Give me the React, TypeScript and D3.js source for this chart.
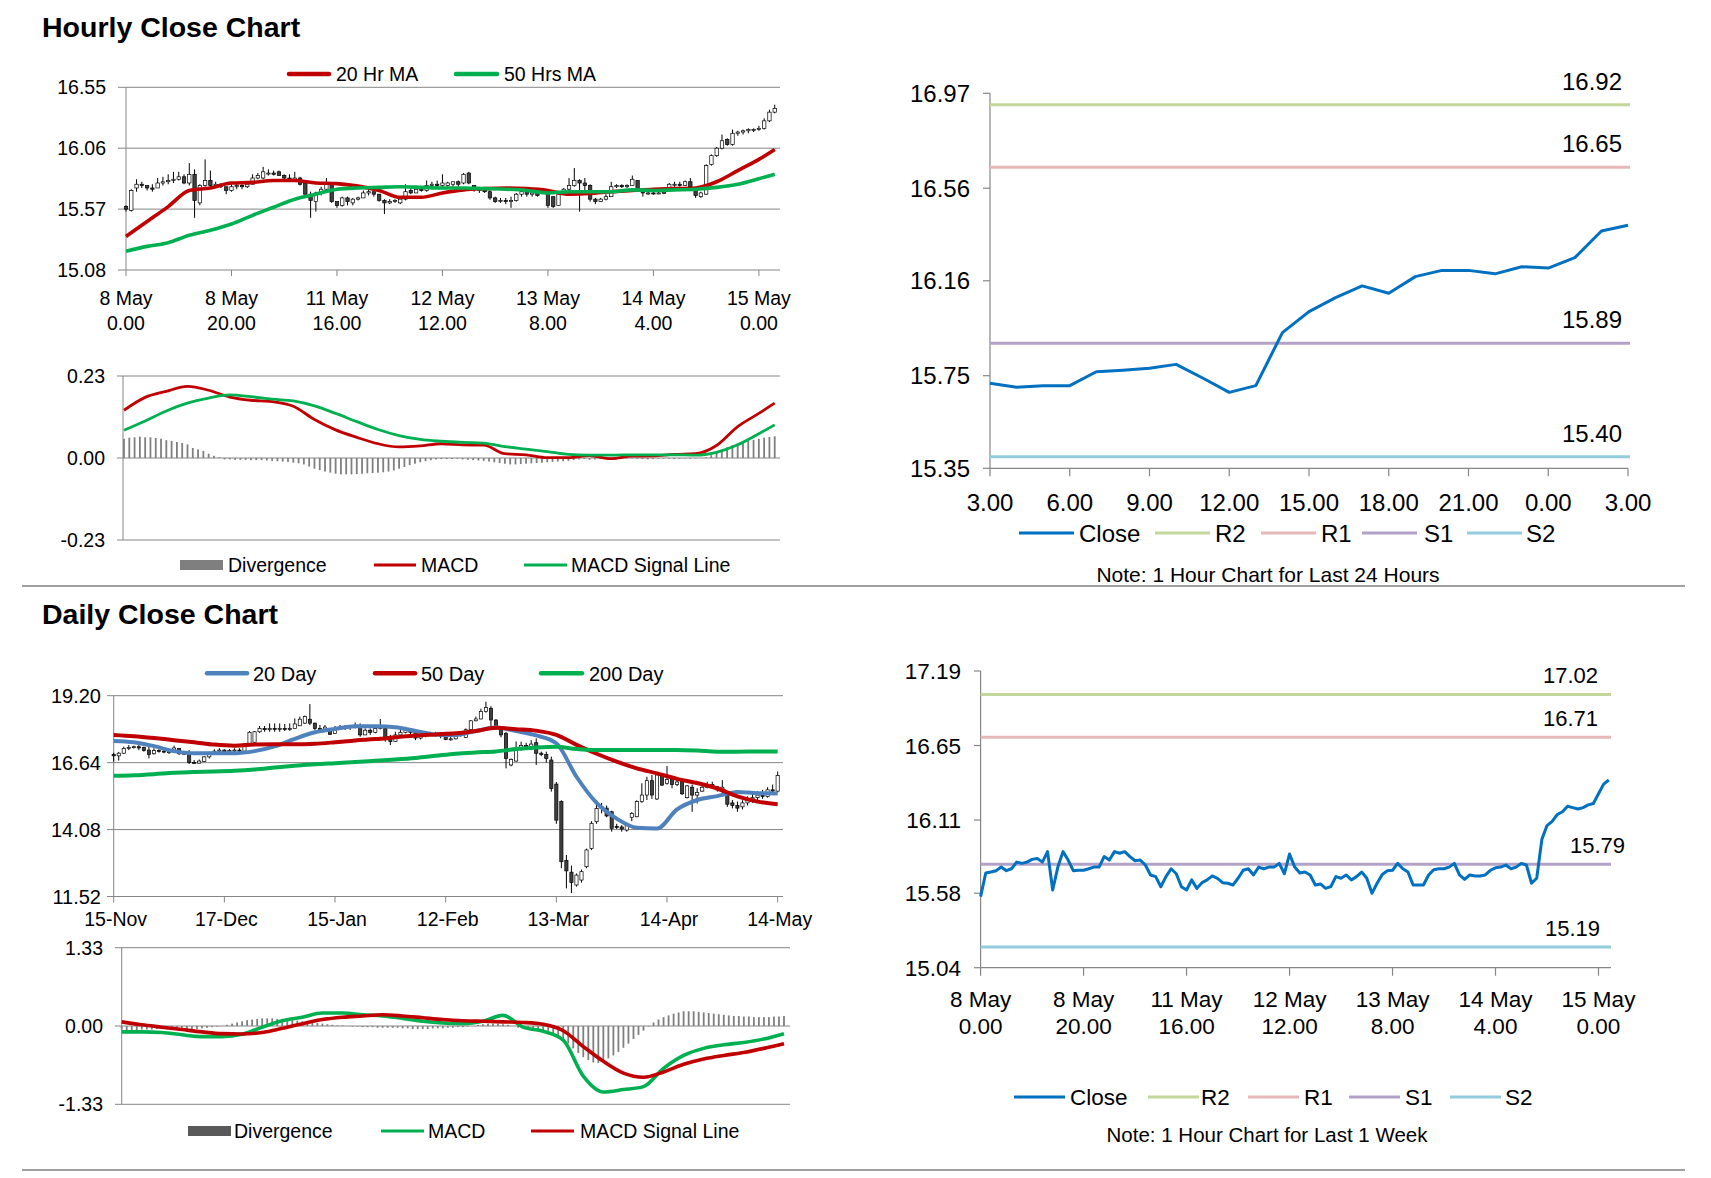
import React, { useEffect, useRef } from "react";
import * as d3 from "d3";

const W = 1711;
const H = 1178;
const FONT = "'Liberation Sans', Arial, Helvetica, sans-serif";
const GRID = "#868686";
const RED = "#c00000";
const GREEN = "#00b050";
const BLUE20 = "#4f81bd";
const CLOSE = "#0070c0";
const BAR = "#7f7f7f";

// ---------- Hourly close chart (top left) ----------
const hourTickLabels = [
  ["8 May", "0.00"],
  ["8 May", "20.00"],
  ["11 May", "16.00"],
  ["12 May", "12.00"],
  ["13 May", "8.00"],
  ["14 May", "4.00"],
  ["15 May", "0.00"],
];
const hourlyPriceTicks = [15.08, 15.57, 16.06, 16.55];
const hourlyMacdTicks = [-0.23, 0, 0.23];

// [open, high, low, close]
const hourlyCandles = [
  [15.59, 15.6, 15.55, 15.57], [15.56, 15.73, 15.55, 15.72], [15.74, 15.81, 15.71, 15.77], [15.77, 15.79, 15.74, 15.76],
  [15.76, 15.76, 15.72, 15.74], [15.74, 15.77, 15.71, 15.73], [15.74, 15.82, 15.74, 15.78], [15.78, 15.83, 15.76, 15.79],
  [15.79, 15.85, 15.77, 15.8], [15.8, 15.87, 15.78, 15.81], [15.81, 15.87, 15.8, 15.83], [15.83, 15.85, 15.77, 15.78],
  [15.78, 15.94, 15.76, 15.85], [15.85, 15.89, 15.5, 15.64], [15.62, 15.77, 15.6, 15.76], [15.76, 15.97, 15.75, 15.8],
  [15.8, 15.88, 15.75, 15.76], [15.76, 15.79, 15.75, 15.77], [15.77, 15.78, 15.74, 15.75], [15.75, 15.75, 15.69, 15.72],
  [15.72, 15.77, 15.71, 15.75], [15.75, 15.78, 15.73, 15.76], [15.76, 15.78, 15.73, 15.75], [15.75, 15.79, 15.74, 15.77],
  [15.77, 15.85, 15.77, 15.82], [15.82, 15.86, 15.81, 15.84], [15.82, 15.91, 15.81, 15.87], [15.86, 15.89, 15.84, 15.86],
  [15.86, 15.88, 15.84, 15.85], [15.87, 15.88, 15.84, 15.84], [15.84, 15.85, 15.81, 15.82], [15.82, 15.85, 15.8, 15.81],
  [15.81, 15.87, 15.8, 15.82], [15.82, 15.83, 15.76, 15.77], [15.78, 15.79, 15.67, 15.69], [15.69, 15.71, 15.5, 15.64],
  [15.63, 15.71, 15.55, 15.7], [15.7, 15.75, 15.68, 15.73], [15.73, 15.82, 15.72, 15.77], [15.77, 15.78, 15.62, 15.63],
  [15.63, 15.63, 15.58, 15.6], [15.6, 15.67, 15.59, 15.66], [15.66, 15.67, 15.6, 15.63], [15.62, 15.66, 15.6, 15.65],
  [15.65, 15.67, 15.64, 15.66], [15.66, 15.72, 15.66, 15.7], [15.7, 15.73, 15.68, 15.71], [15.71, 15.71, 15.67, 15.69],
  [15.69, 15.69, 15.63, 15.64], [15.64, 15.65, 15.53, 15.62], [15.62, 15.65, 15.61, 15.63], [15.63, 15.65, 15.62, 15.64],
  [15.62, 15.66, 15.61, 15.65], [15.65, 15.77, 15.64, 15.71], [15.72, 15.75, 15.69, 15.7], [15.7, 15.76, 15.7, 15.73],
  [15.73, 15.75, 15.71, 15.72], [15.72, 15.8, 15.71, 15.76], [15.76, 15.79, 15.74, 15.77], [15.77, 15.8, 15.74, 15.76],
  [15.76, 15.85, 15.75, 15.78], [15.76, 15.79, 15.75, 15.78], [15.77, 15.79, 15.75, 15.79], [15.79, 15.8, 15.75, 15.77],
  [15.78, 15.86, 15.77, 15.85], [15.86, 15.87, 15.77, 15.78], [15.76, 15.76, 15.71, 15.74], [15.74, 15.74, 15.7, 15.72],
  [15.72, 15.74, 15.7, 15.71], [15.71, 15.72, 15.645, 15.66], [15.66, 15.67, 15.62, 15.63], [15.63, 15.66, 15.62, 15.64],
  [15.64, 15.66, 15.61, 15.63], [15.63, 15.67, 15.58, 15.64], [15.64, 15.7, 15.63, 15.69], [15.69, 15.73, 15.67, 15.71],
  [15.71, 15.71, 15.67, 15.69], [15.69, 15.71, 15.67, 15.7], [15.7, 15.71, 15.67, 15.68], [15.7, 15.74, 15.7, 15.72],
  [15.71, 15.71, 15.58, 15.6], [15.67, 15.67, 15.58, 15.59], [15.6, 15.71, 15.6, 15.69], [15.7, 15.74, 15.69, 15.73],
  [15.73, 15.82, 15.71, 15.76], [15.76, 15.9, 15.75, 15.8], [15.8, 15.81, 15.55, 15.78], [15.78, 15.82, 15.71, 15.76],
  [15.76, 15.77, 15.63, 15.65], [15.65, 15.66, 15.61, 15.63], [15.63, 15.66, 15.63, 15.65], [15.65, 15.69, 15.64, 15.67],
  [15.67, 15.79, 15.67, 15.75], [15.75, 15.77, 15.74, 15.76], [15.76, 15.77, 15.74, 15.75], [15.75, 15.77, 15.74, 15.76],
  [15.76, 15.84, 15.76, 15.81], [15.8, 15.8, 15.72, 15.73], [15.72, 15.73, 15.67, 15.7], [15.7, 15.71, 15.685, 15.7],
  [15.7, 15.71, 15.685, 15.695], [15.695, 15.71, 15.69, 15.7], [15.7, 15.71, 15.69, 15.705], [15.74, 15.78, 15.74, 15.77],
  [15.77, 15.79, 15.75, 15.77], [15.77, 15.79, 15.75, 15.76], [15.76, 15.8, 15.76, 15.79], [15.79, 15.82, 15.74, 15.75],
  [15.72, 15.72, 15.66, 15.68], [15.67, 15.71, 15.66, 15.7], [15.69, 15.93, 15.685, 15.92], [15.93, 16.01, 15.92, 16.0],
  [16.0, 16.07, 15.99, 16.06], [16.06, 16.17, 16.05, 16.12], [16.13, 16.14, 16.08, 16.09], [16.09, 16.21, 16.08, 16.18],
  [16.18, 16.2, 16.16, 16.19], [16.19, 16.21, 16.17, 16.2], [16.2, 16.22, 16.18, 16.21], [16.21, 16.22, 16.19, 16.21],
  [16.21, 16.24, 16.2, 16.22], [16.22, 16.3, 16.21, 16.28], [16.28, 16.37, 16.27, 16.35], [16.35, 16.41, 16.34, 16.38],
];

// moving averages / MACD read every 4th hour (last at hour 123)
const hourlySampleIdx = [0, 4, 8, 12, 16, 20, 24, 28, 32, 36, 40, 44, 48, 52, 56, 60, 64, 68, 72, 76, 80, 84, 88, 92, 96, 100, 104, 108, 112, 116, 120, 123];
const hourlyMa20 = [15.35, 15.47, 15.59, 15.72, 15.74, 15.78, 15.785, 15.8, 15.8, 15.78, 15.775, 15.755, 15.72, 15.665, 15.665, 15.7, 15.725, 15.735, 15.74, 15.735, 15.72, 15.69, 15.695, 15.71, 15.72, 15.73, 15.735, 15.74, 15.79, 15.88, 15.97, 16.05];
const hourlyMa50 = [15.23, 15.27, 15.3, 15.36, 15.4, 15.45, 15.52, 15.585, 15.65, 15.69, 15.73, 15.74, 15.745, 15.75, 15.745, 15.74, 15.74, 15.735, 15.73, 15.72, 15.7, 15.71, 15.71, 15.71, 15.725, 15.72, 15.725, 15.73, 15.745, 15.77, 15.815, 15.85];
const hourlyMacd = [0.134, 0.17, 0.187, 0.201, 0.19, 0.171, 0.162, 0.158, 0.145, 0.108, 0.079, 0.058, 0.04, 0.031, 0.034, 0.04, 0.037, 0.036, 0.012, 0.009, 0.001, 0.001, 0.007, -0.002, 0.005, 0.006, 0.01, 0.012, 0.035, 0.088, 0.125, 0.154];
const hourlySignal = [0.078, 0.104, 0.132, 0.154, 0.168, 0.177, 0.172, 0.165, 0.16, 0.146, 0.125, 0.102, 0.08, 0.063, 0.052, 0.047, 0.044, 0.042, 0.032, 0.025, 0.018, 0.01, 0.008, 0.008, 0.009, 0.009, 0.009, 0.008, 0.016, 0.037, 0.068, 0.093];
const hourlyDivergence = [
  0.054, 0.057, 0.058, 0.06, 0.058, 0.058, 0.056, 0.054, 0.05, 0.048, 0.045, 0.042, 0.038, 0.028, 0.024, 0.02, 0.012, 0.006, 0.002,
  -0.004, -0.004, -0.005, -0.005, -0.005, -0.006, -0.006, -0.006, -0.007, -0.008, -0.009, -0.01, -0.011, -0.013, -0.015,
  -0.018, -0.024, -0.03, -0.034, -0.038, -0.041, -0.044, -0.046, -0.046, -0.046, -0.045, -0.044, -0.043, -0.042, -0.041,
  -0.04, -0.038, -0.035, -0.03, -0.025, -0.02, -0.016, -0.012, -0.009, -0.006, -0.004, -0.003, -0.003, -0.003,
  -0.002, -0.004, -0.005, -0.006, -0.007, -0.008, -0.01, -0.012, -0.014, -0.016, -0.018, -0.018, -0.017, -0.016, -0.015,
  -0.014, -0.013, -0.012, -0.011, -0.01, -0.009, -0.008, -0.006,
  -0.004, -0.003, -0.005, -0.004, -0.003, -0.002, -0.004, -0.005, -0.003, -0.002, -0.001, -0.002, -0.003, -0.004, -0.003,
  -0.002, -0.001, -0.002, -0.003, -0.002, -0.001, -0.002, -0.001, 0,
  0.002, 0.008, 0.015, 0.022, 0.03, 0.036, 0.04, 0.044, 0.048, 0.051, 0.054, 0.057, 0.059, 0.061,
];

// ---------- 1 hour chart for last 24 hours (top right) ----------
const dayHourLabels = ["3.00", "6.00", "9.00", "12.00", "15.00", "18.00", "21.00", "0.00", "3.00"];
const dayTicks = [15.35, 15.75, 16.16, 16.56, 16.97];
const dayClose = [15.717, 15.7, 15.707, 15.707, 15.767, 15.774, 15.782, 15.799, 15.74, 15.678, 15.707, 15.936, 16.027, 16.087, 16.138, 16.106, 16.178, 16.205, 16.205, 16.19, 16.221, 16.215, 16.26, 16.375, 16.4];
const levelNames = ["R2", "R1", "S1", "S2"];
const levelColors = ["#c3d69b", "#e6b9b8", "#b3a2c7", "#93cddd"];
const dayLevels = [16.92, 16.65, 15.89, 15.4];

// ---------- Daily close chart (bottom left) ----------
const dailyTickLabels = ["15-Nov", "17-Dec", "15-Jan", "12-Feb", "13-Mar", "14-Apr", "14-May"];
const dailyPriceTicks = [11.52, 14.08, 16.64, 19.2];
const dailyMacdTicks = [-1.33, 0, 1.33];
const dailyCandles = [
  [16.95, 17.02, 16.68, 16.9], [16.9, 17.05, 16.72, 17.0], [17.0, 17.25, 16.98, 17.18], [17.18, 17.31, 17.12, 17.22],
  [17.22, 17.29, 17.18, 17.25], [17.25, 17.31, 17.12, 17.2], [17.22, 17.25, 17.06, 17.1], [17.12, 17.25, 16.8, 16.95],
  [16.98, 17.19, 16.95, 17.1], [17.1, 17.15, 17.02, 17.08], [17.08, 17.12, 17.0, 17.05], [17.05, 17.12, 16.97, 17.06],
  [17.06, 17.29, 17.05, 17.2], [17.18, 17.19, 16.93, 16.98], [16.98, 17.06, 16.93, 17.0], [17.0, 17.12, 16.59, 16.65],
  [16.65, 16.74, 16.59, 16.62], [16.62, 16.76, 16.61, 16.7], [16.68, 16.89, 16.66, 16.86], [16.86, 17.06, 16.8, 17.0],
  [17.0, 17.15, 16.97, 17.08], [17.08, 17.19, 17.0, 17.12], [17.12, 17.15, 16.97, 17.05], [17.05, 17.16, 17.0, 17.1],
  [17.1, 17.19, 17.02, 17.12], [17.12, 17.19, 17.02, 17.08], [17.08, 17.38, 17.06, 17.35], [17.38, 17.85, 17.35, 17.8],
  [17.42, 17.85, 17.4, 17.82], [17.82, 18.04, 17.78, 17.95], [17.95, 18.04, 17.82, 17.9], [17.9, 18.14, 17.82, 17.95],
  [17.95, 18.14, 17.82, 17.92], [17.92, 18.14, 17.82, 17.95], [17.95, 18.12, 17.85, 17.92], [17.92, 18.14, 17.86, 17.95],
  [17.95, 18.33, 17.95, 18.12], [18.05, 18.4, 18.04, 18.3], [18.15, 18.44, 18.12, 18.4], [18.3, 18.88, 18.08, 18.15],
  [18.15, 18.17, 17.89, 17.95], [17.95, 18.08, 17.86, 17.92], [17.92, 18.08, 17.89, 18.0], [17.95, 17.96, 17.7, 17.72],
  [17.75, 18.04, 17.74, 17.92], [17.92, 18.08, 17.89, 18.0], [18.0, 18.08, 17.89, 17.98], [17.98, 18.08, 17.89, 18.02],
  [18.02, 18.17, 17.95, 18.05], [18.05, 18.14, 17.63, 17.7], [17.7, 17.95, 17.7, 17.88], [17.88, 17.95, 17.7, 17.8],
  [17.8, 18.08, 17.76, 17.95], [17.95, 18.31, 17.91, 18.0], [17.95, 17.96, 17.44, 17.55], [17.55, 17.7, 17.31, 17.45],
  [17.45, 17.82, 17.45, 17.7], [17.7, 17.95, 17.63, 17.8], [17.8, 18.01, 17.76, 17.9], [17.9, 17.95, 17.7, 17.8],
  [17.8, 17.82, 17.5, 17.58], [17.58, 17.78, 17.53, 17.65], [17.65, 17.82, 17.61, 17.7], [17.7, 17.82, 17.66, 17.75],
  [17.75, 17.82, 17.63, 17.7], [17.7, 17.78, 17.57, 17.65], [17.68, 17.7, 17.5, 17.52], [17.52, 17.66, 17.48, 17.55],
  [17.55, 17.78, 17.53, 17.7], [17.7, 17.78, 17.63, 17.72], [17.6, 17.95, 17.58, 17.9], [17.9, 18.27, 17.88, 18.24],
  [18.24, 18.4, 18.22, 18.31], [18.31, 18.7, 18.3, 18.6], [18.6, 18.97, 18.55, 18.75], [18.72, 18.8, 18.04, 18.27],
  [18.27, 18.3, 17.9, 17.95], [17.95, 17.98, 17.61, 17.7], [17.75, 17.82, 16.42, 16.8], [16.55, 16.8, 16.5, 16.76],
  [16.7, 17.45, 16.68, 17.2], [17.2, 17.44, 17.1, 17.3], [17.3, 17.4, 17.2, 17.25], [17.25, 17.5, 17.12, 17.35],
  [17.4, 17.57, 16.55, 17.0], [17.0, 17.06, 16.89, 16.95], [16.95, 17.06, 16.64, 16.8], [16.74, 16.87, 15.53, 15.65],
  [15.82, 15.9, 14.3, 14.44], [15.15, 15.2, 12.6, 12.85], [12.9, 13.11, 11.83, 12.5], [12.45, 12.7, 11.65, 12.05],
  [11.96, 12.4, 11.9, 12.34], [12.15, 12.55, 12.05, 12.47], [12.66, 13.35, 12.6, 13.3], [13.36, 14.4, 13.3, 14.32],
  [14.38, 15.2, 14.3, 14.89], [14.89, 15.1, 14.7, 14.95], [14.9, 15.0, 14.55, 14.6], [14.76, 14.8, 14.0, 14.13],
  [14.2, 14.3, 14.1, 14.18], [14.18, 14.25, 14.0, 14.1], [14.06, 14.3, 14.0, 14.25], [14.55, 14.75, 14.4, 14.7],
  [14.57, 15.2, 14.55, 15.15], [15.15, 15.85, 15.1, 15.4], [15.4, 16.1, 15.21, 15.95], [15.95, 16.17, 15.25, 15.4],
  [15.25, 16.23, 15.21, 16.17], [16.17, 16.2, 15.75, 15.78], [15.85, 16.51, 15.8, 16.0], [16.0, 16.04, 15.66, 15.8],
  [15.8, 16.04, 15.74, 15.9], [15.95, 15.97, 15.4, 15.45], [15.3, 15.78, 15.27, 15.75], [15.7, 15.8, 14.76, 15.4],
  [15.4, 15.66, 15.08, 15.5], [15.55, 15.85, 15.52, 15.7], [15.7, 15.91, 15.66, 15.75], [15.75, 15.91, 15.72, 15.8],
  [15.72, 15.75, 15.53, 15.6], [15.6, 15.97, 15.46, 15.7], [15.5, 15.55, 14.95, 15.05], [15.1, 15.21, 14.89, 15.0],
  [15.0, 15.15, 14.76, 14.9], [14.95, 15.2, 14.85, 15.1], [15.1, 15.35, 15.0, 15.25], [15.25, 15.5, 15.1, 15.3],
  [15.3, 15.55, 15.15, 15.4], [15.4, 15.6, 15.25, 15.35], [15.35, 15.7, 15.3, 15.6], [15.6, 15.8, 15.45, 15.55],
  [15.55, 16.3, 15.5, 16.15],
];

// moving averages / MACD read every 4th day
const dailySampleIdx = [0, 4, 8, 12, 16, 20, 24, 28, 32, 36, 40, 44, 48, 52, 56, 60, 64, 68, 72, 76, 80, 84, 88, 92, 96, 100, 104, 108, 112, 116, 120, 124, 128, 132];
const daily20 = [17.47, 17.42, 17.27, 17.08, 17.0, 17.0, 17.0, 17.08, 17.26, 17.55, 17.8, 17.93, 18.03, 18.03, 17.99, 17.85, 17.72, 17.7, 17.85, 17.98, 17.85, 17.68, 17.38, 16.1, 15.1, 14.5, 14.15, 14.12, 14.85, 15.21, 15.36, 15.52, 15.47, 15.46];
const daily50 = [17.7, 17.65, 17.58, 17.5, 17.42, 17.33, 17.29, 17.33, 17.34, 17.34, 17.36, 17.42, 17.49, 17.54, 17.61, 17.68, 17.72, 17.76, 17.85, 17.97, 17.92, 17.86, 17.7, 17.32, 16.98, 16.68, 16.42, 16.23, 16.02, 15.86, 15.65, 15.35, 15.15, 15.05];
const daily200 = [16.14, 16.16, 16.2, 16.25, 16.28, 16.3, 16.33, 16.38, 16.45, 16.52, 16.58, 16.62, 16.66, 16.71, 16.76, 16.82, 16.9, 16.98, 17.03, 17.07, 17.16, 17.22, 17.25, 17.16, 17.12, 17.12, 17.12, 17.12, 17.12, 17.1, 17.06, 17.06, 17.07, 17.07];
const dailyMacd = [-0.1, -0.1, -0.11, -0.15, -0.18, -0.18, -0.14, -0.02, 0.09, 0.15, 0.22, 0.22, 0.19, 0.17, 0.13, 0.08, 0.05, 0.04, 0.08, 0.18, -0.02, -0.09, -0.24, -0.85, -1.12, -1.08, -1.03, -0.72, -0.5, -0.38, -0.32, -0.28, -0.22, -0.13];
const dailySignal = [0.07, 0.02, -0.02, -0.06, -0.1, -0.13, -0.135, -0.11, -0.04, 0.04, 0.11, 0.15, 0.17, 0.19, 0.17, 0.14, 0.11, 0.09, 0.08, 0.07, 0.06, 0.03, -0.08, -0.35, -0.6, -0.8, -0.87, -0.78, -0.65, -0.56, -0.5, -0.45, -0.38, -0.3];
const dailyDivergence = [
  -0.06, -0.07, -0.07, -0.07, -0.06, -0.06, -0.06, -0.05, -0.05, -0.05, -0.05, -0.05, -0.06, -0.06, -0.06, -0.05, -0.04, -0.03, -0.02, -0.01,
  0.0, 0.02, 0.04, 0.06, 0.08, 0.1, 0.11, 0.12, 0.13, 0.13, 0.13, 0.12, 0.12, 0.11, 0.1, 0.09, 0.08, 0.07, 0.06, 0.05, 0.04, 0.03, 0.02, 0.01,
  0.01, 0.0, -0.01, -0.01, -0.02, -0.02, -0.02, -0.03, -0.03, -0.03, -0.03, -0.03, -0.04, -0.04, -0.05, -0.05, -0.05, -0.05, -0.04, -0.04,
  -0.04, -0.03, -0.03, -0.02, -0.02, -0.01, 0.0, 0.02, 0.03, 0.04, 0.04, 0.04, 0.03, 0.02, 0.0,
  -0.03, -0.05, -0.06, -0.07, -0.08, -0.09, -0.1, -0.12,
  -0.16, -0.22, -0.3, -0.38, -0.46, -0.53, -0.58, -0.62, -0.63, -0.6, -0.55, -0.5, -0.44, -0.37, -0.3, -0.22, -0.15, -0.08, -0.01,
  0.06, 0.11, 0.15, 0.18, 0.21, 0.23, 0.25, 0.25, 0.25, 0.24, 0.23, 0.22, 0.21, 0.2, 0.19, 0.18, 0.17, 0.17, 0.16, 0.16, 0.15, 0.15, 0.15,
  0.15, 0.16, 0.16, 0.17,
];

// ---------- 1 hour chart for last 1 week (bottom right) ----------
const weekTicks = [15.04, 15.58, 16.11, 16.65, 17.19];
const weekLevels = [17.02, 16.71, 15.79, 15.19];
const weekClose = [
  15.555, 15.726, 15.733, 15.743, 15.769, 15.743, 15.757, 15.805, 15.796, 15.805, 15.825, 15.832, 15.805, 15.881, 15.603, 15.769,
  15.881, 15.82, 15.743, 15.746, 15.746, 15.757, 15.769, 15.769, 15.845, 15.82, 15.881, 15.869, 15.881, 15.845, 15.815, 15.82,
  15.784, 15.712, 15.7, 15.627, 15.7, 15.757, 15.721, 15.627, 15.603, 15.676, 15.615, 15.656, 15.676, 15.705, 15.688, 15.656,
  15.652, 15.639, 15.688, 15.746, 15.757, 15.712, 15.769, 15.757, 15.769, 15.769, 15.796, 15.721, 15.864, 15.769, 15.726, 15.733,
  15.712, 15.639, 15.647, 15.615, 15.627, 15.7, 15.688, 15.712, 15.676, 15.7, 15.733, 15.688, 15.579, 15.652, 15.716, 15.743,
  15.746, 15.796, 15.757, 15.733, 15.639, 15.639, 15.639, 15.712, 15.75, 15.757, 15.757, 15.769, 15.796, 15.712, 15.68, 15.712,
  15.705, 15.705, 15.712, 15.746, 15.764, 15.769, 15.784, 15.757, 15.769, 15.796, 15.784, 15.652, 15.688, 15.97, 16.07, 16.1,
  16.15, 16.17, 16.21, 16.2, 16.19, 16.2, 16.22, 16.23, 16.3, 16.37, 16.4,
];

const App: React.FC = () => {
  const svgRef = useRef<SVGSVGElement>(null);

  useEffect(() => {
    if (!svgRef.current) return;
    const svg = d3.select(svgRef.current);
    svg.selectAll("*").remove();
    svg.append("rect").attr("width", W).attr("height", H).attr("fill", "#fff");

    const label = (x: number, y: number, s: string, size: number, anchor = "start", weight = "normal") =>
      svg
        .append("text")
        .attr("x", x)
        .attr("y", y)
        .attr("font-family", FONT)
        .attr("font-size", size)
        .attr("font-weight", weight)
        .attr("text-anchor", anchor)
        .attr("fill", "#000")
        .text(s);

    const seg = (x1: number, y1: number, x2: number, y2: number, color: string, width: number, cap = "butt") =>
      svg
        .append("line")
        .attr("x1", x1)
        .attr("y1", y1)
        .attr("x2", x2)
        .attr("y2", y2)
        .attr("stroke", color)
        .attr("stroke-width", width)
        .attr("stroke-linecap", cap);

    const series = (idx: number[], vals: number[], x: any, y: any, color: string, width: number, curve: any = d3.curveMonotoneX) =>
      svg
        .append("path")
        .datum(vals)
        .attr("fill", "none")
        .attr("stroke", color)
        .attr("stroke-width", width)
        .attr("stroke-linejoin", "round")
        .attr(
          "d",
          d3
            .line<number>()
            .x((_, i) => x(idx[i]))
            .y((d) => y(d))
            .curve(curve)
        );

    const candles = (data: number[][], x: any, y: any, bodyW: number) => {
      const g = svg.append("g");
      data.forEach(([o, h, l, c], i) => {
        const cx = x(i);
        g.append("line")
          .attr("x1", cx)
          .attr("x2", cx)
          .attr("y1", y(Math.max(h, o, c)))
          .attr("y2", y(Math.min(l, o, c)))
          .attr("stroke", "#000")
          .attr("stroke-width", 1);
        const top = y(Math.max(o, c));
        const bot = y(Math.min(o, c));
        g.append("rect")
          .attr("x", cx - bodyW / 2)
          .attr("y", top)
          .attr("width", bodyW)
          .attr("height", Math.max(1, bot - top))
          .attr("fill", c >= o ? "#fff" : "#404040")
          .attr("stroke", "#000")
          .attr("stroke-width", 0.7);
      });
    };

    const histogram = (vals: number[], x: any, y: any, width: number) => {
      svg
        .append("g")
        .selectAll("rect")
        .data(vals)
        .join("rect")
        .attr("x", (_, i) => x(i) - width / 2)
        .attr("y", (d) => Math.min(y(0), y(d)))
        .attr("width", width)
        .attr("height", (d) => Math.abs(y(d) - y(0)))
        .attr("fill", BAR);
    };

    // titles and separators
    label(42, 37, "Hourly Close Chart", 28.5, "start", "bold");
    label(42, 624, "Daily Close Chart", 28.5, "start", "bold");
    seg(22, 586, 1685, 586, "#7f7f7f", 1.5);
    seg(22, 1170, 1685, 1170, "#7f7f7f", 1.5);

    // ===== Hourly candles =====
    const xH = d3.scaleLinear().domain([0, 124]).range([126, 780]);
    const yH = d3.scaleLinear().domain([15.08, 16.55]).range([270, 87.3]);
    hourlyPriceTicks.forEach((t) => {
      seg(118, yH(t), 780, yH(t), GRID, 1);
      label(106, yH(t) + 7, t.toFixed(2), 19.5, "end");
    });
    seg(126, yH(16.55), 126, yH(15.08), GRID, 1);
    hourTickLabels.forEach((lab, k) => {
      const xx = xH(k * 20);
      seg(xx, 270, xx, 276, GRID, 1);
      label(xx, 304.5, lab[0], 19.5, "middle");
      label(xx, 329.5, lab[1], 19.5, "middle");
    });
    candles(hourlyCandles, xH, yH, 3.4);
    series(hourlySampleIdx, hourlyMa20, xH, yH, RED, 3.6);
    series(hourlySampleIdx, hourlyMa50, xH, yH, GREEN, 3.6);
    seg(289, 74, 329, 74, RED, 4.5, "round");
    label(336, 81, "20 Hr MA", 19.5);
    seg(456, 74, 497, 74, GREEN, 4.5, "round");
    label(504, 81, "50 Hrs MA", 19.5);

    // ===== Hourly MACD =====
    const xM = d3.scaleLinear().domain([0, 124]).range([124, 780]);
    const yM = d3.scaleLinear().domain([-0.23, 0.23]).range([540, 376]);
    hourlyMacdTicks.forEach((t) => {
      seg(117, yM(t), 780, yM(t), GRID, 1);
      label(105, yM(t) + 7, t.toFixed(2), 19.5, "end");
    });
    seg(123, yM(0.23), 123, yM(-0.23), GRID, 1);
    histogram(hourlyDivergence, xM, yM, 1.8);
    series(hourlySampleIdx, hourlyMacd, xM, yM, RED, 2.8);
    series(hourlySampleIdx, hourlySignal, xM, yM, GREEN, 2.8);
    svg.append("rect").attr("x", 180).attr("y", 560).attr("width", 43).attr("height", 10).attr("fill", BAR);
    label(228, 572, "Divergence", 19.5);
    seg(374, 565, 416, 565, RED, 2.8);
    label(421, 572, "MACD", 19.5);
    seg(524, 565, 567, 565, GREEN, 2.8);
    label(571, 572, "MACD Signal Line", 19.5);

    // ===== Last 24 hours =====
    const xR = d3.scaleLinear().domain([0, 24]).range([990, 1628]);
    const yR = d3.scaleLinear().domain([15.35, 16.97]).range([468.3, 93.3]);
    seg(990, yR(16.97), 990, yR(15.35), GRID, 1.2);
    seg(990, yR(15.35), 1628, yR(15.35), GRID, 1.2);
    dayTicks.forEach((t) => {
      seg(983, yR(t), 990, yR(t), GRID, 1.2);
      label(970, yR(t) + 8.5, t.toFixed(2), 24, "end");
    });
    dayHourLabels.forEach((lab, k) => {
      const xx = xR(k * 3);
      seg(xx, yR(15.35), xx, yR(15.35) + 8, GRID, 1.2);
      label(xx, 511, lab, 24, "middle");
    });
    dayLevels.forEach((v, k) => {
      seg(990, yR(v), 1630, yR(v), levelColors[k], 3);
      label(1622, yR(v) - 15, v.toFixed(2), 24, "end");
    });
    series(d3.range(dayClose.length), dayClose, xR, yR, CLOSE, 3, d3.curveLinear);
    const rLegend = [
      [1019, 1079],
      [1155, 1215],
      [1261, 1321],
      [1362, 1424],
      [1467, 1526],
    ];
    ["Close", ...levelNames].forEach((name, k) => {
      const color = k === 0 ? CLOSE : levelColors[k - 1];
      seg(rLegend[k][0], 533, rLegend[k][0] + 55, 533, color, 3);
      label(rLegend[k][1], 541.5, name, 24);
    });
    label(1268, 582, "Note: 1 Hour Chart for Last 24 Hours", 21, "middle");

    // ===== Daily candles =====
    const xD = d3.scaleLinear().domain([0, 133.2]).range([113.7, 783.7]);
    const yD = d3.scaleLinear().domain([11.52, 19.2]).range([896.5, 695.7]);
    dailyPriceTicks.forEach((t) => {
      seg(107, yD(t), 783, yD(t), GRID, 1);
      label(101, yD(t) + 7, t.toFixed(2), 20, "end");
    });
    seg(113.7, yD(19.2), 113.7, yD(11.52), GRID, 1);
    dailyTickLabels.forEach((lab, k) => {
      const xx = xD(k * 22);
      seg(xx, 896.5, xx, 902.5, GRID, 1);
      label(xx + 2, 926, lab, 19.5, "middle");
    });
    candles(dailyCandles, xD, yD, 3.2);
    series(dailySampleIdx, daily20, xD, yD, BLUE20, 4);
    series(dailySampleIdx, daily50, xD, yD, RED, 4);
    series(dailySampleIdx, daily200, xD, yD, GREEN, 4);
    seg(207, 673.3, 247, 673.3, BLUE20, 4.5, "round");
    label(253, 681, "20 Day", 20);
    seg(375, 673.3, 415, 673.3, RED, 4.5, "round");
    label(421, 681, "50 Day", 20);
    seg(541, 673.3, 582, 673.3, GREEN, 4.5, "round");
    label(589, 681, "200 Day", 20);

    // ===== Daily MACD =====
    const xDM = d3.scaleLinear().domain([0, 133.2]).range([121.7, 790]);
    const yDM = d3.scaleLinear().domain([-1.33, 1.33]).range([1104.3, 947.7]);
    dailyMacdTicks.forEach((t) => {
      seg(115, yDM(t), 790, yDM(t), GRID, 1);
      label(103, yDM(t) + 7, t.toFixed(2), 19.5, "end");
    });
    seg(121.7, yDM(1.33), 121.7, yDM(-1.33), GRID, 1);
    histogram(dailyDivergence, xDM, yDM, 1.8);
    series(dailySampleIdx, dailyMacd, xDM, yDM, GREEN, 3.6);
    series(dailySampleIdx, dailySignal, xDM, yDM, RED, 3.6);
    svg.append("rect").attr("x", 188).attr("y", 1126).attr("width", 43).attr("height", 10).attr("fill", "#595959");
    label(234, 1138, "Divergence", 19.5);
    seg(381, 1131, 424, 1131, GREEN, 3);
    label(428, 1138, "MACD", 19.5);
    seg(531, 1131, 574, 1131, RED, 3);
    label(580, 1138, "MACD Signal Line", 19.5);

    // ===== Last 1 week =====
    const xW = d3.scaleLinear().domain([0, 120]).range([980.6, 1598.5]);
    const yW = d3.scaleLinear().domain([15.04, 17.19]).range([967.7, 671]);
    seg(980.6, yW(17.19), 980.6, yW(15.04), GRID, 1.2);
    seg(980.6, yW(15.04), 1611, yW(15.04), GRID, 1.2);
    weekTicks.forEach((t) => {
      seg(974, yW(t), 980.6, yW(t), GRID, 1.2);
      label(961, yW(t) + 8, t.toFixed(2), 22.5, "end");
    });
    hourTickLabels.forEach((lab, k) => {
      const xx = xW(k * 20);
      seg(xx, yW(15.04), xx, yW(15.04) + 8, GRID, 1.2);
      label(xx, 1007, lab[0], 22.5, "middle");
      label(xx, 1034, lab[1], 22.5, "middle");
    });
    const weekLabelRight = [1598, 1598, 1625, 1600];
    weekLevels.forEach((v, k) => {
      seg(980.6, yW(v), 1611, yW(v), levelColors[k], 3);
      label(weekLabelRight[k], yW(v) - 11.5, v.toFixed(2), 22, "end");
    });
    series(d3.range(weekClose.length), weekClose, xW, yW, CLOSE, 3, d3.curveLinear);
    const wLegend = [
      [1014, 1070],
      [1148, 1201],
      [1248, 1304],
      [1349, 1405],
      [1450, 1505],
    ];
    ["Close", ...levelNames].forEach((name, k) => {
      const color = k === 0 ? CLOSE : levelColors[k - 1];
      seg(wLegend[k][0], 1097, wLegend[k][0] + 51, 1097, color, 3);
      label(wLegend[k][1], 1105, name, 22.5);
    });
    label(1267, 1142, "Note: 1 Hour Chart for Last 1 Week", 20.5, "middle");
  }, []);

  return (
    <svg
      ref={svgRef}
      width={W}
      height={H}
      style={{ position: "absolute", left: 0, top: 0, display: "block" }}
    ></svg>
  );
};

export default App;
